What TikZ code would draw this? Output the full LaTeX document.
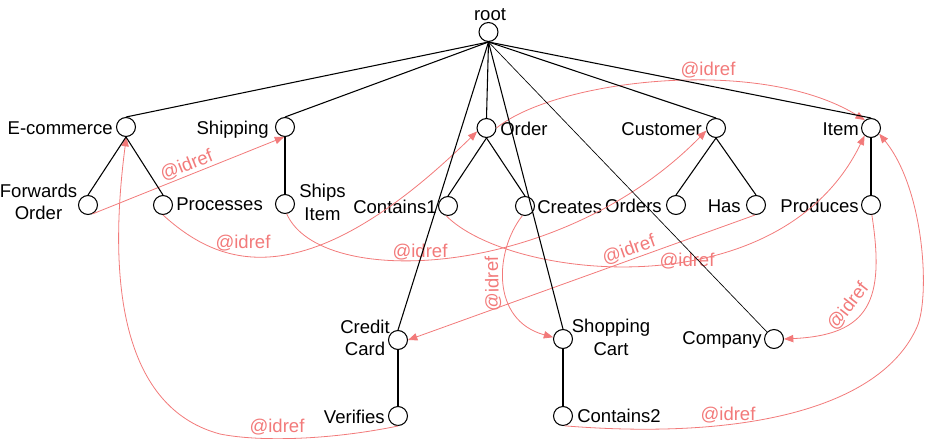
\documentclass[tikz,border=0pt]{standalone}
\usepackage{fontspec}
\setmainfont{Liberation Sans}
\usetikzlibrary{arrows.meta}
\definecolor{idred}{RGB}{242,122,122}
\begin{document}
\begin{tikzpicture}[x=0.75pt,y=-0.75pt,
  vtx/.style={circle,draw=black,line width=0.8pt,inner sep=0pt,minimum size=14.2pt},
  txt/.style={inner sep=0pt,font=\fontsize{13.9pt}{16.9pt}\selectfont},
  txttwo/.style={txt,align=center},
  tree/.style={line width=0.8pt},
  thintree/.style={line width=0.5pt},
  ref/.style={draw=idred,line width=0.6pt,-{Triangle[length=7pt,width=5.5pt]}},
  reflab/.style={txt,text=idred,inner sep=1pt}]
\useasboundingbox (0,0) rectangle (928,439);

% vertices
\node[vtx] (root) at (488.5,32) {};
\node[vtx] (ecom) at (126,127) {};
\node[vtx] (ship) at (285,127) {};
\node[vtx] (order) at (486.5,128) {};
\node[vtx] (cust) at (716,128) {};
\node[vtx] (item) at (871,128) {};
\node[vtx] (fwd) at (88,205) {};
\node[vtx] (proc) at (163,205) {};
\node[vtx] (ships) at (285,204) {};
\node[vtx] (cont1) at (448,206) {};
\node[vtx] (creates) at (525,206) {};
\node[vtx] (orders) at (676,205) {};
\node[vtx] (has) at (756,205) {};
\node[vtx] (prod) at (871,205) {};
\node[vtx] (cc) at (398,340) {};
\node[vtx] (sc) at (563,339) {};
\node[vtx] (comp) at (774,339) {};
\node[vtx] (ver) at (398,416) {};
\node[vtx] (cont2) at (563,416) {};

% vertex texts
\node[txt,anchor=base] (troot) at (490,20) {root};
\node[txt,anchor=base east] (tecom) at (113,134.5) {E-commerce};
\node[txt,anchor=base east] (tship) at (269,134.5) {Shipping};
\node[txt,anchor=base west] (torder) at (500,135) {Order};
\node[txt,anchor=base east] (tcust) at (702,135) {Customer};
\node[txt,anchor=base east] (titem) at (859,135) {Item};
\node[txttwo] (tfwd) at (38.5,202) {Forwards\\Order};
\node[txt,anchor=base west] (tproc) at (176,210) {Processes};
\node[txttwo] (tships) at (322.5,202.5) {Ships\\Item};
\node[txt,anchor=base east] (tcont1) at (437,213) {Contains1};
\node[txt,anchor=base west] (tcreates) at (537,213) {Creates};
\node[txt,anchor=base east] (torders) at (662,212) {Orders};
\node[txt,anchor=base east] (thas) at (741,212) {Has};
\node[txt,anchor=base east] (tprod) at (859,212) {Produces};
\node[txttwo] (tcc) at (365,338) {Credit\\Card};
\node[txttwo] (tsc) at (611,337.5) {Shopping\\Cart};
\node[txt,anchor=base east] (tcomp) at (762,344) {Company};
\node[txt,anchor=base east] (tver) at (385,423) {Verifies};
\node[txt,anchor=base west] (tcont2) at (577,422) {Contains2};

% idref connectors
\draw[ref] (fwd.-63) -- node[reflab,sloped,above,pos=0.51] (la) {@idref} (ship.-95);
\draw[ref] (proc.south) .. controls (215,262) and (300,305) .. (order.200);
\node[reflab] (lb) at (243,243) {@idref};
\draw[ref] (ships.-80) .. controls (320,290) and (560,280) .. (cust.195);
\node[reflab] (lc) at (420,252) {@idref};
\draw[ref] (cont1.-100) .. controls (510,280) and (780,310) .. (item.230);
\node[reflab] (ld) at (687,261) {@idref};
\draw[ref] (has.-95) -- node[reflab,sloped,above,pos=0.354] (le) {@idref} (cc.east);
\draw[ref] (creates.-105) .. controls (495,250) and (490,320) .. (sc.170);
\node[reflab,rotate=91] (lf) at (493,284) {@idref};
\draw[ref] (prod.-85) .. controls (885,300) and (870,335) .. (comp.east);
\node[reflab,rotate=52] (lg) at (848,307) {@idref};
\draw[ref] (ver.south) .. controls (330,440) and (260,442) .. (220,434)
  .. controls (130,410) and (105,300) .. (ecom.-88);
\node[reflab] (lh) at (277,427) {@idref};
\draw[ref] (cont2.-80) .. controls (740,440) and (880,410) .. (917,327)
  .. controls (930,298) and (925,190) .. (item.-35);
\node[reflab] (li) at (728,415) {@idref};
\draw[ref] (order.east) .. controls (555,80) and (760,55) .. (item.128);
\node[reflab] (lj) at (708,70) {@idref};

% tree edges
\draw[tree] (root.south) -- (ecom.north);
\draw[tree] (root.south) -- (ship.north);
\draw[tree] (root.south) -- (order.north);
\draw[tree] (root.south) -- (cust.north);
\draw[tree] (root.south) -- (item.north);
\draw[tree] (root.south) -- (cc.north);
\draw[tree] (root.south) -- (sc.north);
\draw[thintree] (root.south) -- (comp.north west);
\draw[tree] (ecom.south) -- (fwd.north);
\draw[tree] (ecom.south) -- (proc.north);
\draw[tree] (ship.south) -- (ships.north);
\draw[tree] (order.south) -- (cont1.north);
\draw[tree] (order.south) -- (creates.north);
\draw[tree] (cust.south) -- (orders.north);
\draw[tree] (cust.south) -- (has.north);
\draw[tree] (item.south) -- (prod.north);
\draw[tree] (cc.south) -- (ver.north);
\draw[tree] (sc.south) -- (cont2.north);
\end{tikzpicture}
\end{document}
